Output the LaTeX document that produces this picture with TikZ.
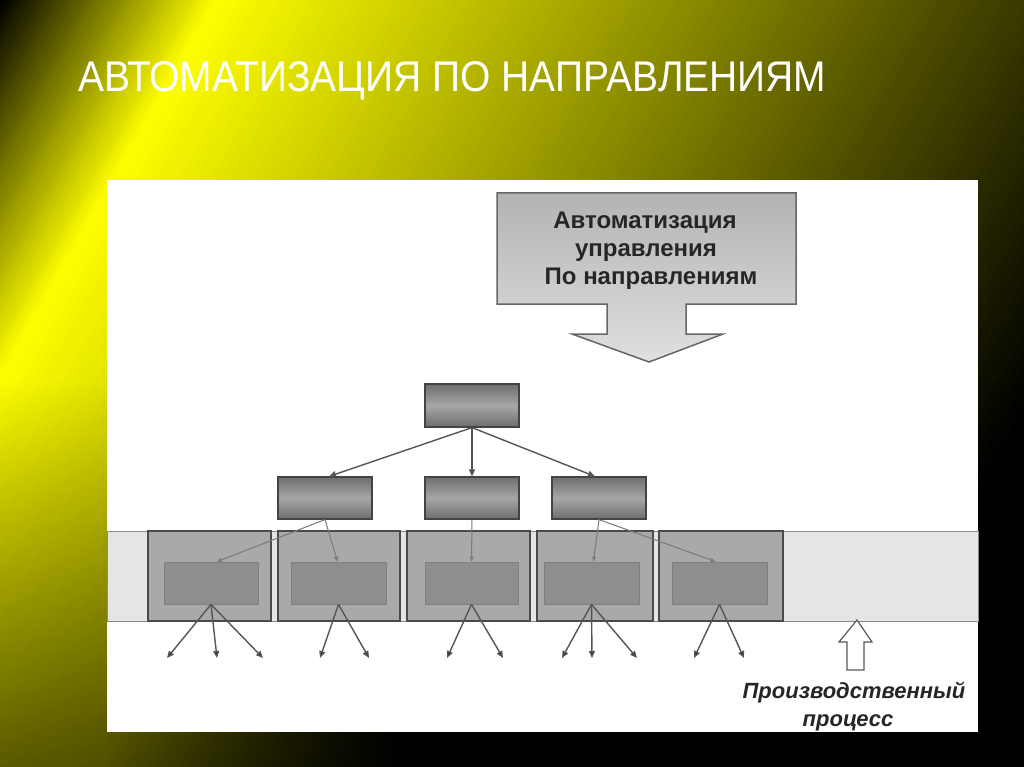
\documentclass[tikz,border=0pt]{standalone}
\usepackage{fontspec}
\setmainfont{Liberation Sans}
\usetikzlibrary{arrows.meta,fadings}
\definecolor{ylw}{RGB}{255,255,0}
\definecolor{blk}{RGB}{0,0,0}
\definecolor{boxedge}{HTML}{444444}
\definecolor{boxdark}{HTML}{6E6E6E}
\definecolor{boxlight}{HTML}{A6A6A6}
\definecolor{cellfill}{HTML}{A9A9A9}
\definecolor{celledge}{HTML}{4A4A4A}
\definecolor{innerfill}{HTML}{8E8E8E}
\definecolor{inneredge}{HTML}{808080}
\definecolor{bandfill}{HTML}{E5E5E5}
\definecolor{bandedge}{HTML}{8A8A8A}
\definecolor{linkgray}{HTML}{555555}
\definecolor{softlink}{HTML}{7A7A7A}
\definecolor{txtdark}{HTML}{262626}
\definecolor{calltop}{HTML}{B3B3B3}
\definecolor{callbot}{HTML}{E0E0E0}
\definecolor{calledge}{HTML}{666666}
\tikzfading[name=darkbottom, top color=transparent!100, bottom color=transparent!45]
\tikzfading[name=darkright, left color=transparent!100, right color=transparent!0]
\tikzset{
  topbox/.style={draw=boxedge, line width=1.2pt, top color=boxdark, bottom color=boxdark, middle color=boxlight, minimum width=94pt, minimum height=43pt, inner sep=0pt},
  cellbox/.style={draw=celledge, line width=1.2pt, fill=cellfill, minimum height=90pt, inner sep=0pt},
  innerbox/.style={draw=inneredge, line width=0.8pt, fill=innerfill, minimum height=42pt, inner sep=0pt},
  toplink/.style={draw=linkgray, line width=1.4pt, -{Triangle[length=7pt,width=6pt]}},
  bandlink/.style={draw=softlink, line width=1pt, -{Triangle[length=5pt,width=4pt,fill=softlink!70]}},
  outlink/.style={draw=linkgray, line width=1.4pt, -{Triangle[length=7pt,width=6pt,fill=black!85]}},
  headtxt/.style={font=\bfseries\fontsize{24}{28}\selectfont, text=txtdark, inner sep=0pt, anchor=base},
  proctxt/.style={font=\bfseries\itshape\fontsize{22}{28}\selectfont, text=txtdark, inner sep=0pt, anchor=base}
}
\begin{document}
\begin{tikzpicture}[x=1pt,y=-1pt]
\useasboundingbox (0,0) rectangle (1024,767);
% background gradient
\begin{scope}
\clip (0,0) rectangle (1024,767);
\fill[blk] (0,0) rectangle (1024,767);
\foreach \d in {0,2,...,198}{
  \pgfmathtruncatemacro\shadepct{(\d+1)<188 ? (\d+1)/1.88 : max(0,100-(\d+1-188)/9.12)}
  \filldraw[fill=ylw!\shadepct!blk, draw=ylw!\shadepct!blk, line width=0.6pt] ({0.868*\d+992},{0.496*\d-1736}) -- ({0.868*\d-992},{0.496*\d+1736}) -- ({0.868*(\d+3)-992},{0.496*(\d+3)+1736}) -- ({0.868*(\d+3)+992},{0.496*(\d+3)-1736}) -- cycle;
}
\foreach \d in {200,204,...,1110}{
  \pgfmathtruncatemacro\shadepct{max(0,100-(\d+2-188)/9.12)}
  \filldraw[fill=ylw!\shadepct!blk, draw=ylw!\shadepct!blk, line width=0.6pt] ({0.868*\d+992},{0.496*\d-1736}) -- ({0.868*\d-992},{0.496*\d+1736}) -- ({0.868*(\d+5)-992},{0.496*(\d+5)+1736}) -- ({0.868*(\d+5)+992},{0.496*(\d+5)-1736}) -- cycle;
}
\fill[blk, path fading=darkbottom] (0,380) rectangle (1024,767);
\fill[blk, path fading=darkright] (107,732) rectangle (400,767);
\fill[blk] (400,732) rectangle (1024,767);
\end{scope}
% title
\node[anchor=base west, inner sep=0pt, text=white] (title) at (78,92) {\resizebox{748pt}{30pt}{\fontsize{42}{42}\selectfont АВТОМАТИЗАЦИЯ ПО НАПРАВЛЕНИЯМ}};
% white panel
\fill[white] (107,180) rectangle (978,732);
% callout
\shade[top color=calltop, bottom color=callbot, draw=calledge, line width=1.5pt, line join=miter]
  (497,193) -- (796,193) -- (796,304) -- (686,304) -- (686,334) -- (723,334) -- (649,362) -- (572,334) -- (607,334) -- (607,304) -- (497,304) -- cycle;
\node[headtxt] (h1) at (645,229) {Автоматизация};
\node[headtxt] (h2) at (646,256) {управления};
\node[headtxt] (h3) at (651,284) {По направлениям};
% band
\node[draw=bandedge, line width=1pt, fill=bandfill, minimum width=871pt, minimum height=90pt, inner sep=0pt] (band) at (542.5,576) {};
\node[cellbox, minimum width=123pt] (c1) at (209.5,576) {};
\node[cellbox, minimum width=122pt] (c2) at (339,576) {};
\node[cellbox, minimum width=123pt] (c3) at (468.5,576) {};
\node[cellbox, minimum width=116pt] (c4) at (595,576) {};
\node[cellbox, minimum width=124pt] (c5) at (721,576) {};
\node[innerbox, minimum width=94pt] (i1) at (211,583) {};
\node[innerbox, minimum width=95pt] (i2) at (338.5,583) {};
\node[innerbox, minimum width=93pt] (i3) at (471.5,583) {};
\node[innerbox, minimum width=95pt] (i4) at (591.5,583) {};
\node[innerbox, minimum width=95pt] (i5) at (719.5,583) {};
% upper boxes
\node[topbox] (root) at (472,405.5) {};
\node[topbox, minimum height=42pt] (b1) at (325,498) {};
\node[topbox, minimum height=42pt] (b2) at (472,498) {};
\node[topbox, minimum height=42pt] (b3) at (599,498) {};
% connectors
\draw[toplink] (root.south) -- ([xshift=4pt]b1.north);
\draw[toplink] (root.south) -- (b2.north);
\draw[toplink] (root.south) -- ([xshift=-4pt]b3.north);
\draw[bandlink] (b1.south) -- ([xshift=6pt]i1.north);
\draw[bandlink] (b1.south) -- ([xshift=-1pt]i2.north);
\draw[bandlink] (b2.south) -- (i3.north);
\draw[bandlink] (b3.south) -- ([xshift=2pt]i4.north);
\draw[bandlink] (b3.south) -- ([xshift=-4pt]i5.north);
% outgoing arrows
\coordinate (o11) at (167,658); \coordinate (o12) at (217,658); \coordinate (o13) at (263,658);
\coordinate (o21) at (320,658); \coordinate (o22) at (369,658);
\coordinate (o31) at (447,658); \coordinate (o32) at (503,658);
\coordinate (o41) at (562,658); \coordinate (o42) at (592,658); \coordinate (o43) at (637,658);
\coordinate (o51) at (694,658); \coordinate (o52) at (744,658);
\foreach \s/\e in {i1/o11,i1/o12,i1/o13,i2/o21,i2/o22,i3/o31,i3/o32,i4/o41,i4/o42,i4/o43,i5/o51,i5/o52}{
  \draw[outlink] (\s.south) -- (\e);
}
% hollow arrow
\draw[fill=white, draw=black!65, line width=1.2pt, line join=miter] (857,620) -- (872,642) -- (864,642) -- (864,670) -- (847,670) -- (847,642) -- (839,642) -- cycle;
\node[proctxt] (p1) at (854,698) {Производственный};
\node[proctxt] (p2) at (848,726) {процесс};
\end{tikzpicture}
\end{document}
